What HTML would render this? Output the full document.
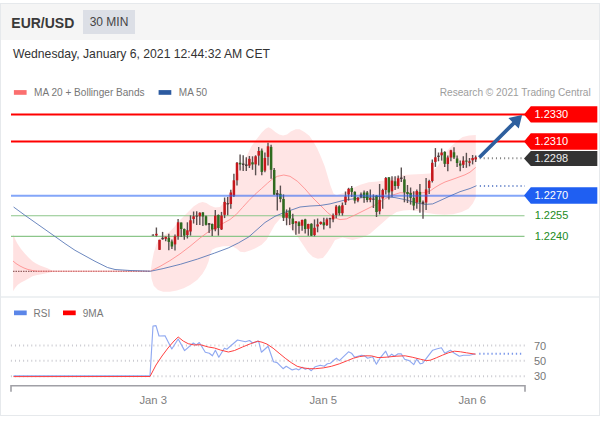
<!DOCTYPE html>
<html><head><meta charset="utf-8"><title>EUR/USD 30 MIN</title>
<style>
html,body{margin:0;padding:0;background:#fff;}
body{width:607px;height:423px;position:relative;overflow:hidden;font-family:"Liberation Sans",Arial,sans-serif;}
.card{position:absolute;left:0px;top:3px;width:600px;height:413px;border:1px solid #e6e9ec;box-sizing:border-box;background:#fff;}
.hdr{position:absolute;left:0;top:0;right:0;height:36px;background:#f5f5f5;}
.sym{position:absolute;left:10.3px;top:5.5px;font-size:14px;font-weight:bold;color:#3a3a3a;line-height:26px;white-space:nowrap;}
.tf{position:absolute;left:82.2px;top:6.3px;width:51.6px;height:24.2px;background:#dcdfe6;color:#444;font-size:12px;line-height:24px;text-align:center;white-space:nowrap;}
.date{position:absolute;left:12px;top:41.7px;font-size:12.2px;color:#333;line-height:16px;white-space:nowrap;}
.sep{position:absolute;left:0;right:0;top:292px;height:2px;background:#eef1f3;}
svg text{font-family:"Liberation Sans",Arial,sans-serif;}
</style></head><body>
<div class="card">
<div class="hdr"><div class="sym">EUR/USD</div><div class="tf">30 MIN</div></div>
<div class="date">Wednesday, January 6, 2021 12:44:32 AM CET</div>
<div class="sep"></div>
</div>
<svg width="607" height="423" viewBox="0 0 607 423" style="position:absolute;left:0;top:0">
<polygon points="13.2,233.8 15.0,239.0 17.5,243.8 21.0,249.0 25.0,253.8 29.0,258.0 32.5,261.3 36.0,263.5 40.0,265.5 44.0,267.0 47.5,268.3 52.5,270.8 54.0,271.3 54.0,271.3 52.5,271.8 47.5,273.0 44.0,273.7 40.0,274.5 36.0,275.2 32.5,276.3 29.0,278.2 25.0,280.5 21.0,282.5 17.5,285.0 15.0,288.0 13.2,291.3" fill="#ffdede" opacity="0.9"/>
<polygon points="150.8,270.1 152.0,261.7 153.7,253.1 156.3,244.6 159.7,238.2 163.8,235.2 168.8,232.4 173.8,227.6 178.8,221.3 183.8,216.3 188.8,211.3 193.8,206.3 198.9,203.0 202.6,202.0 206.4,203.0 210.1,205.5 215.1,207.5 220.1,207.0 223.9,202.5 226.4,197.5 230.7,192.0 233.6,185.9 237.5,176.0 240.4,168.4 245.3,158.7 248.2,152.9 251.0,147.0 255.0,141.3 257.9,137.4 261.7,132.5 265.6,128.7 268.5,127.3 271.4,128.7 275.3,132.0 279.2,134.5 283.0,135.4 287.0,134.5 290.8,131.6 295.7,129.2 299.6,129.2 304.4,132.0 309.3,135.8 313.1,141.3 317.0,148.0 320.9,156.8 324.8,166.5 327.7,176.2 330.6,185.9 333.5,193.6 336.4,195.2 345.0,192.6 351.7,188.6 360.3,184.8 368.8,182.3 377.4,181.4 384.2,180.6 394.5,177.1 403.1,175.1 411.7,174.6 422.0,174.0 430.0,173.6 437.7,166.3 442.7,157.6 447.7,150.0 452.7,145.0 457.7,140.5 462.7,137.0 469.0,135.5 475.8,135.0 475.8,197.5 472.8,203.6 468.5,208.7 461.7,212.1 453.1,214.2 444.5,214.7 436.0,214.2 427.4,213.0 418.8,211.3 410.3,210.1 403.4,210.4 396.6,212.1 389.7,216.4 382.9,222.4 376.0,228.4 370.0,233.8 362.6,237.6 352.5,240.0 342.5,237.6 335.0,240.0 331.0,247.0 327.0,253.0 322.9,258.0 317.9,258.8 313.0,257.1 308.0,252.2 303.0,244.7 298.0,237.3 293.1,231.5 288.1,224.8 285.0,220.0 282.3,216.6 279.8,219.0 274.9,224.8 270.7,232.3 266.6,239.7 261.6,244.7 255.0,248.5 250.0,250.6 244.5,252.3 240.2,251.8 236.8,248.8 231.7,245.9 223.1,246.3 216.2,247.7 212.0,249.7 210.2,254.8 208.5,261.7 206.0,267.7 202.5,273.7 197.4,279.7 190.5,284.8 183.7,288.3 176.8,290.5 170.0,291.7 163.1,291.7 158.0,290.0 153.7,285.7 151.5,278.8 150.8,271.4" fill="#ffe5e5"/>
<line x1="11" y1="215.7" x2="524.5" y2="215.7" stroke="#8cc68a" stroke-width="1.1"/>
<line x1="11" y1="236.4" x2="524.5" y2="236.4" stroke="#8cc68a" stroke-width="1.1"/>
<line x1="11" y1="114.55" x2="526" y2="114.55" stroke="#ff0000" stroke-width="2"/>
<line x1="11" y1="141.55" x2="526" y2="141.55" stroke="#ff0000" stroke-width="2"/>
<line x1="13" y1="271.3" x2="150.5" y2="271.3" stroke="#5a1a1a" stroke-width="0.8" stroke-dasharray="1.5,1"/>
<polyline points="13.0,261.0 16.0,263.5 20.0,266.0 24.0,268.0 28.0,269.5 33.0,270.6 38.0,271.2 150.5,271.2 160.0,266.4 170.0,260.6 180.0,253.9 190.0,246.3 200.0,238.0 210.0,230.6 220.0,225.0 230.0,219.5 236.3,214.4 242.5,207.5 248.8,200.6 255.0,194.4 261.3,188.8 267.6,183.1 273.0,178.5 277.5,176.3 283.8,175.0 290.0,176.3 297.6,181.4 305.0,188.9 312.6,197.6 320.0,205.0 327.6,212.6 333.9,217.6 340.0,219.6 346.4,218.9 355.0,215.0 365.0,210.0 375.0,205.0 385.0,198.9 392.7,195.0 400.0,192.8 410.0,193.0 420.0,193.0 426.0,192.5 430.0,191.0 435.0,187.5 440.0,184.5 445.0,182.0 455.0,178.5 465.0,174.8 470.0,172.2 475.7,167.4" fill="none" stroke="#ff8585" stroke-width="0.8" stroke-linejoin="round"/>
<polyline points="13.6,207.0 24.8,215.2 54.6,236.2 65.0,243.6 75.0,250.3 95.0,261.3 107.5,267.5 115.0,269.5 130.0,270.5 150.8,271.2 163.1,268.6 180.3,264.3 197.4,259.1 214.5,253.1 228.2,248.0 238.5,242.9 248.8,236.9 256.0,230.5 265.0,222.5 275.0,216.3 283.0,213.0 292.0,209.8 300.0,207.0 310.0,206.0 320.0,205.5 330.0,203.9 345.0,200.0 362.6,197.6 380.0,196.4 395.0,197.6 405.0,199.6 415.0,202.6 425.0,204.4 432.7,203.9 440.0,200.6 450.0,196.0 460.0,191.7 470.0,188.5 476.5,185.7" fill="none" stroke="#5273b3" stroke-width="0.85" stroke-linejoin="round"/>
<line x1="153.30" y1="234.6" x2="153.30" y2="235.6" stroke="#5a5050" stroke-width="1.4"/>
<rect x="151.70" y="234.6" width="2.4" height="1.0" fill="#4a3a3a"/>
<line x1="156.40" y1="227.5" x2="156.40" y2="236.5" stroke="#5a5050" stroke-width="1.4"/>
<rect x="155.15" y="233.8" width="2.5" height="1.6" fill="#c6171c"/>
<line x1="159.50" y1="239.8" x2="159.50" y2="250.0" stroke="#5a5050" stroke-width="1.4"/>
<rect x="158.25" y="239.8" width="2.5" height="10.0" fill="#c6171c"/>
<line x1="162.60" y1="231.9" x2="162.60" y2="239.8" stroke="#5a5050" stroke-width="1.4"/>
<rect x="161.35" y="237.8" width="2.5" height="1.4" fill="#4a3a3a"/>
<line x1="165.70" y1="236.5" x2="165.70" y2="241.3" stroke="#5a5050" stroke-width="1.4"/>
<rect x="164.45" y="236.9" width="2.5" height="1.9" fill="#c6171c"/>
<line x1="168.80" y1="233.8" x2="168.80" y2="250.3" stroke="#5a5050" stroke-width="1.4"/>
<rect x="167.55" y="237.8" width="2.5" height="4.1" fill="#2f6b1f"/>
<line x1="171.90" y1="239.4" x2="171.90" y2="249.0" stroke="#5a5050" stroke-width="1.4"/>
<rect x="170.65" y="241.5" width="2.5" height="5.0" fill="#2f6b1f"/>
<line x1="175.00" y1="234.4" x2="175.00" y2="250.6" stroke="#5a5050" stroke-width="1.4"/>
<rect x="173.75" y="236.3" width="2.5" height="8.1" fill="#c6171c"/>
<line x1="178.10" y1="219.0" x2="178.10" y2="239.8" stroke="#5a5050" stroke-width="1.4"/>
<rect x="176.85" y="222.3" width="2.5" height="14.0" fill="#c6171c"/>
<line x1="181.20" y1="222.5" x2="181.20" y2="236.9" stroke="#5a5050" stroke-width="1.4"/>
<rect x="179.95" y="222.5" width="2.5" height="6.5" fill="#2f6b1f"/>
<line x1="184.30" y1="228.5" x2="184.30" y2="239.8" stroke="#5a5050" stroke-width="1.4"/>
<rect x="183.05" y="229.0" width="2.5" height="6.6" fill="#2f6b1f"/>
<line x1="187.40" y1="222.3" x2="187.40" y2="238.5" stroke="#5a5050" stroke-width="1.4"/>
<rect x="186.15" y="230.3" width="2.5" height="4.7" fill="#c6171c"/>
<line x1="190.50" y1="215.3" x2="190.50" y2="235.6" stroke="#5a5050" stroke-width="1.4"/>
<rect x="189.25" y="220.3" width="2.5" height="11.2" fill="#c6171c"/>
<line x1="193.60" y1="211.5" x2="193.60" y2="223.5" stroke="#5a5050" stroke-width="1.4"/>
<rect x="192.35" y="216.3" width="2.5" height="2.7" fill="#c6171c"/>
<line x1="196.70" y1="211.3" x2="196.70" y2="225.0" stroke="#5a5050" stroke-width="1.4"/>
<rect x="195.45" y="215.6" width="2.5" height="1.0" fill="#4a3a3a"/>
<line x1="199.80" y1="212.3" x2="199.80" y2="225.0" stroke="#5a5050" stroke-width="1.4"/>
<rect x="198.55" y="212.8" width="2.5" height="3.5" fill="#c6171c"/>
<line x1="202.90" y1="211.9" x2="202.90" y2="226.0" stroke="#5a5050" stroke-width="1.4"/>
<rect x="201.65" y="212.5" width="2.5" height="4.0" fill="#2f6b1f"/>
<line x1="206.00" y1="215.6" x2="206.00" y2="225.6" stroke="#5a5050" stroke-width="1.4"/>
<rect x="204.75" y="216.3" width="2.5" height="8.5" fill="#2f6b1f"/>
<line x1="209.10" y1="223.0" x2="209.10" y2="233.0" stroke="#5a5050" stroke-width="1.4"/>
<rect x="207.85" y="223.2" width="2.5" height="1.6" fill="#4a3a3a"/>
<line x1="212.20" y1="223.5" x2="212.20" y2="236.0" stroke="#5a5050" stroke-width="1.4"/>
<rect x="210.95" y="224.0" width="2.5" height="5.4" fill="#2f6b1f"/>
<line x1="215.30" y1="210.0" x2="215.30" y2="231.3" stroke="#5a5050" stroke-width="1.4"/>
<rect x="214.05" y="215.6" width="2.5" height="13.8" fill="#c6171c"/>
<line x1="218.40" y1="214.4" x2="218.40" y2="235.6" stroke="#5a5050" stroke-width="1.4"/>
<rect x="217.15" y="215.0" width="2.5" height="13.0" fill="#2f6b1f"/>
<line x1="221.50" y1="211.9" x2="221.50" y2="230.0" stroke="#5a5050" stroke-width="1.4"/>
<rect x="220.25" y="215.6" width="2.5" height="13.8" fill="#c6171c"/>
<line x1="224.60" y1="197.5" x2="224.60" y2="218.1" stroke="#5a5050" stroke-width="1.4"/>
<rect x="223.35" y="201.9" width="2.5" height="12.9" fill="#c6171c"/>
<line x1="227.70" y1="196.9" x2="227.70" y2="215.3" stroke="#5a5050" stroke-width="1.4"/>
<rect x="226.45" y="203.1" width="2.5" height="1.3" fill="#4a3a3a"/>
<line x1="230.80" y1="189.8" x2="230.80" y2="208.8" stroke="#5a5050" stroke-width="1.4"/>
<rect x="229.55" y="192.5" width="2.5" height="11.5" fill="#c6171c"/>
<line x1="233.90" y1="173.8" x2="233.90" y2="196.9" stroke="#5a5050" stroke-width="1.4"/>
<rect x="232.65" y="180.3" width="2.5" height="15.3" fill="#c6171c"/>
<line x1="237.00" y1="161.9" x2="237.00" y2="185.6" stroke="#5a5050" stroke-width="1.4"/>
<rect x="235.75" y="162.8" width="2.5" height="17.5" fill="#c6171c"/>
<line x1="240.10" y1="154.4" x2="240.10" y2="170.6" stroke="#5a5050" stroke-width="1.4"/>
<rect x="238.85" y="162.8" width="2.5" height="1.6" fill="#2f6b1f"/>
<line x1="243.20" y1="155.3" x2="243.20" y2="171.0" stroke="#5a5050" stroke-width="1.4"/>
<rect x="241.95" y="163.5" width="2.5" height="1.5" fill="#4a3a3a"/>
<line x1="246.30" y1="157.3" x2="246.30" y2="171.0" stroke="#5a5050" stroke-width="1.4"/>
<rect x="245.05" y="164.4" width="2.5" height="1.6" fill="#4a3a3a"/>
<line x1="249.40" y1="156.0" x2="249.40" y2="168.0" stroke="#5a5050" stroke-width="1.4"/>
<rect x="248.15" y="158.8" width="2.5" height="6.8" fill="#c6171c"/>
<line x1="252.50" y1="156.3" x2="252.50" y2="169.8" stroke="#5a5050" stroke-width="1.4"/>
<rect x="251.25" y="162.3" width="2.5" height="2.1" fill="#2f6b1f"/>
<line x1="255.60" y1="155.3" x2="255.60" y2="175.3" stroke="#5a5050" stroke-width="1.4"/>
<rect x="254.35" y="156.3" width="2.5" height="8.1" fill="#c6171c"/>
<line x1="258.70" y1="146.9" x2="258.70" y2="165.6" stroke="#5a5050" stroke-width="1.4"/>
<rect x="257.45" y="151.0" width="2.5" height="4.6" fill="#c6171c"/>
<line x1="261.80" y1="148.5" x2="261.80" y2="175.3" stroke="#5a5050" stroke-width="1.4"/>
<rect x="260.55" y="150.6" width="2.5" height="21.3" fill="#2f6b1f"/>
<line x1="264.90" y1="152.5" x2="264.90" y2="172.3" stroke="#5a5050" stroke-width="1.4"/>
<rect x="263.65" y="158.0" width="2.5" height="12.6" fill="#c6171c"/>
<line x1="268.00" y1="142.8" x2="268.00" y2="165.6" stroke="#5a5050" stroke-width="1.4"/>
<rect x="266.75" y="146.3" width="2.5" height="10.6" fill="#c6171c"/>
<line x1="271.10" y1="144.8" x2="271.10" y2="178.8" stroke="#5a5050" stroke-width="1.4"/>
<rect x="269.85" y="146.9" width="2.5" height="22.9" fill="#2f6b1f"/>
<line x1="274.20" y1="168.1" x2="274.20" y2="195.0" stroke="#5a5050" stroke-width="1.4"/>
<rect x="272.95" y="170.0" width="2.5" height="24.6" fill="#2f6b1f"/>
<line x1="277.30" y1="190.0" x2="277.30" y2="210.5" stroke="#5a5050" stroke-width="1.4"/>
<rect x="276.05" y="193.0" width="2.5" height="2.0" fill="#4a3a3a"/>
<line x1="280.40" y1="185.6" x2="280.40" y2="202.3" stroke="#5a5050" stroke-width="1.4"/>
<rect x="279.15" y="193.8" width="2.5" height="5.2" fill="#2f6b1f"/>
<line x1="283.50" y1="194.4" x2="283.50" y2="221.0" stroke="#5a5050" stroke-width="1.4"/>
<rect x="282.25" y="199.0" width="2.5" height="18.8" fill="#2f6b1f"/>
<line x1="286.60" y1="209.4" x2="286.60" y2="225.3" stroke="#5a5050" stroke-width="1.4"/>
<rect x="285.35" y="212.8" width="2.5" height="5.0" fill="#c6171c"/>
<line x1="289.70" y1="207.5" x2="289.70" y2="225.0" stroke="#5a5050" stroke-width="1.4"/>
<rect x="288.45" y="210.6" width="2.5" height="7.9" fill="#2f6b1f"/>
<line x1="292.80" y1="213.8" x2="292.80" y2="230.3" stroke="#5a5050" stroke-width="1.4"/>
<rect x="291.55" y="218.5" width="2.5" height="5.5" fill="#2f6b1f"/>
<line x1="295.90" y1="221.3" x2="295.90" y2="234.8" stroke="#5a5050" stroke-width="1.4"/>
<rect x="294.65" y="221.3" width="2.5" height="1.9" fill="#c6171c"/>
<line x1="299.00" y1="221.3" x2="299.00" y2="233.8" stroke="#5a5050" stroke-width="1.4"/>
<rect x="297.75" y="222.3" width="2.5" height="3.7" fill="#2f6b1f"/>
<line x1="302.10" y1="219.4" x2="302.10" y2="230.7" stroke="#5a5050" stroke-width="1.4"/>
<rect x="300.85" y="220.0" width="2.5" height="5.7" fill="#c6171c"/>
<line x1="305.20" y1="218.8" x2="305.20" y2="233.6" stroke="#5a5050" stroke-width="1.4"/>
<rect x="303.95" y="219.4" width="2.5" height="9.6" fill="#2f6b1f"/>
<line x1="308.30" y1="223.8" x2="308.30" y2="235.7" stroke="#5a5050" stroke-width="1.4"/>
<rect x="307.05" y="224.0" width="2.5" height="4.8" fill="#c6171c"/>
<line x1="311.40" y1="223.2" x2="311.40" y2="236.0" stroke="#5a5050" stroke-width="1.4"/>
<rect x="310.15" y="223.8" width="2.5" height="11.9" fill="#2f6b1f"/>
<line x1="314.50" y1="219.4" x2="314.50" y2="236.3" stroke="#5a5050" stroke-width="1.4"/>
<rect x="313.25" y="227.8" width="2.5" height="7.2" fill="#c6171c"/>
<line x1="317.60" y1="218.5" x2="317.60" y2="232.3" stroke="#5a5050" stroke-width="1.4"/>
<rect x="316.35" y="224.4" width="2.5" height="2.1" fill="#c6171c"/>
<line x1="320.70" y1="221.5" x2="320.70" y2="224.8" stroke="#5a5050" stroke-width="1.4"/>
<rect x="319.45" y="221.9" width="2.5" height="2.1" fill="#c6171c"/>
<line x1="323.80" y1="217.8" x2="323.80" y2="229.4" stroke="#5a5050" stroke-width="1.4"/>
<rect x="322.55" y="222.3" width="2.5" height="3.0" fill="#2f6b1f"/>
<line x1="326.90" y1="217.8" x2="326.90" y2="226.0" stroke="#5a5050" stroke-width="1.4"/>
<rect x="325.65" y="219.4" width="2.5" height="5.6" fill="#c6171c"/>
<line x1="330.00" y1="217.8" x2="330.00" y2="228.2" stroke="#5a5050" stroke-width="1.4"/>
<rect x="328.75" y="218.2" width="2.5" height="1.0" fill="#4a3a3a"/>
<line x1="333.10" y1="213.5" x2="333.10" y2="222.3" stroke="#5a5050" stroke-width="1.4"/>
<rect x="331.85" y="215.3" width="2.5" height="4.1" fill="#c6171c"/>
<line x1="336.20" y1="205.0" x2="336.20" y2="218.2" stroke="#5a5050" stroke-width="1.4"/>
<rect x="334.95" y="206.5" width="2.5" height="8.5" fill="#c6171c"/>
<line x1="339.30" y1="205.3" x2="339.30" y2="215.6" stroke="#5a5050" stroke-width="1.4"/>
<rect x="338.05" y="206.3" width="2.5" height="6.9" fill="#2f6b1f"/>
<line x1="342.40" y1="202.5" x2="342.40" y2="215.6" stroke="#5a5050" stroke-width="1.4"/>
<rect x="341.15" y="205.3" width="2.5" height="7.9" fill="#c6171c"/>
<line x1="345.50" y1="191.5" x2="345.50" y2="205.0" stroke="#5a5050" stroke-width="1.4"/>
<rect x="344.25" y="196.5" width="2.5" height="5.8" fill="#c6171c"/>
<line x1="348.60" y1="187.8" x2="348.60" y2="200.6" stroke="#5a5050" stroke-width="1.4"/>
<rect x="347.35" y="188.8" width="2.5" height="5.6" fill="#c6171c"/>
<line x1="351.70" y1="186.0" x2="351.70" y2="196.9" stroke="#5a5050" stroke-width="1.4"/>
<rect x="350.45" y="188.0" width="2.5" height="3.9" fill="#2f6b1f"/>
<line x1="354.80" y1="191.3" x2="354.80" y2="203.5" stroke="#5a5050" stroke-width="1.4"/>
<rect x="353.55" y="191.9" width="2.5" height="8.7" fill="#2f6b1f"/>
<line x1="357.90" y1="196.9" x2="357.90" y2="202.3" stroke="#5a5050" stroke-width="1.4"/>
<rect x="356.65" y="197.8" width="2.5" height="2.8" fill="#c6171c"/>
<line x1="361.00" y1="192.5" x2="361.00" y2="198.0" stroke="#5a5050" stroke-width="1.4"/>
<rect x="359.75" y="194.4" width="2.5" height="2.5" fill="#4a3a3a"/>
<line x1="364.10" y1="190.6" x2="364.10" y2="202.8" stroke="#5a5050" stroke-width="1.4"/>
<rect x="362.85" y="192.5" width="2.5" height="5.5" fill="#2f6b1f"/>
<line x1="367.20" y1="191.0" x2="367.20" y2="202.3" stroke="#5a5050" stroke-width="1.4"/>
<rect x="365.95" y="192.5" width="2.5" height="7.5" fill="#2f6b1f"/>
<line x1="370.30" y1="189.4" x2="370.30" y2="202.3" stroke="#5a5050" stroke-width="1.4"/>
<rect x="369.05" y="198.0" width="2.5" height="1.8" fill="#c6171c"/>
<line x1="373.40" y1="194.4" x2="373.40" y2="208.0" stroke="#5a5050" stroke-width="1.4"/>
<rect x="372.15" y="198.5" width="2.5" height="1.3" fill="#4a3a3a"/>
<line x1="376.50" y1="195.0" x2="376.50" y2="217.0" stroke="#5a5050" stroke-width="1.4"/>
<rect x="375.25" y="195.6" width="2.5" height="16.4" fill="#2f6b1f"/>
<line x1="379.60" y1="184.0" x2="379.60" y2="214.4" stroke="#5a5050" stroke-width="1.4"/>
<rect x="378.35" y="199.8" width="2.5" height="11.5" fill="#c6171c"/>
<line x1="382.70" y1="188.8" x2="382.70" y2="208.8" stroke="#5a5050" stroke-width="1.4"/>
<rect x="381.45" y="190.0" width="2.5" height="8.5" fill="#c6171c"/>
<line x1="385.80" y1="176.9" x2="385.80" y2="194.4" stroke="#5a5050" stroke-width="1.4"/>
<rect x="384.55" y="178.0" width="2.5" height="12.0" fill="#c6171c"/>
<line x1="388.90" y1="176.9" x2="388.90" y2="199.4" stroke="#5a5050" stroke-width="1.4"/>
<rect x="387.65" y="177.3" width="2.5" height="15.2" fill="#2f6b1f"/>
<line x1="392.00" y1="176.3" x2="392.00" y2="196.9" stroke="#5a5050" stroke-width="1.4"/>
<rect x="390.75" y="180.6" width="2.5" height="10.7" fill="#c6171c"/>
<line x1="395.10" y1="176.3" x2="395.10" y2="190.0" stroke="#5a5050" stroke-width="1.4"/>
<rect x="393.85" y="181.3" width="2.5" height="4.7" fill="#2f6b1f"/>
<line x1="398.20" y1="175.6" x2="398.20" y2="188.8" stroke="#5a5050" stroke-width="1.4"/>
<rect x="396.95" y="178.3" width="2.5" height="7.7" fill="#c6171c"/>
<line x1="401.30" y1="167.5" x2="401.30" y2="181.9" stroke="#5a5050" stroke-width="1.4"/>
<rect x="400.05" y="177.5" width="2.5" height="1.5" fill="#4a3a3a"/>
<line x1="404.40" y1="176.0" x2="404.40" y2="202.3" stroke="#5a5050" stroke-width="1.4"/>
<rect x="403.15" y="179.4" width="2.5" height="13.0" fill="#2f6b1f"/>
<line x1="407.50" y1="185.0" x2="407.50" y2="203.0" stroke="#5a5050" stroke-width="1.4"/>
<rect x="406.25" y="192.0" width="2.5" height="2.0" fill="#2f6b1f"/>
<line x1="410.60" y1="187.5" x2="410.60" y2="204.6" stroke="#5a5050" stroke-width="1.4"/>
<rect x="409.35" y="193.0" width="2.5" height="4.8" fill="#2f6b1f"/>
<line x1="413.70" y1="191.3" x2="413.70" y2="210.3" stroke="#5a5050" stroke-width="1.4"/>
<rect x="412.45" y="197.8" width="2.5" height="7.8" fill="#2f6b1f"/>
<line x1="416.80" y1="189.4" x2="416.80" y2="208.8" stroke="#5a5050" stroke-width="1.4"/>
<rect x="415.55" y="191.0" width="2.5" height="11.5" fill="#c6171c"/>
<line x1="419.90" y1="184.0" x2="419.90" y2="212.8" stroke="#5a5050" stroke-width="1.4"/>
<rect x="418.65" y="191.9" width="2.5" height="10.6" fill="#2f6b1f"/>
<line x1="423.00" y1="200.6" x2="423.00" y2="218.8" stroke="#5a5050" stroke-width="1.4"/>
<rect x="421.75" y="201.9" width="2.5" height="2.1" fill="#4a3a3a"/>
<line x1="426.10" y1="178.0" x2="426.10" y2="210.0" stroke="#5a5050" stroke-width="1.4"/>
<rect x="424.85" y="189.4" width="2.5" height="13.1" fill="#c6171c"/>
<line x1="429.20" y1="179.8" x2="429.20" y2="194.0" stroke="#5a5050" stroke-width="1.4"/>
<rect x="427.95" y="181.0" width="2.5" height="7.0" fill="#c6171c"/>
<line x1="432.30" y1="159.4" x2="432.30" y2="182.5" stroke="#5a5050" stroke-width="1.4"/>
<rect x="431.05" y="162.8" width="2.5" height="18.2" fill="#c6171c"/>
<line x1="435.40" y1="148.1" x2="435.40" y2="166.9" stroke="#5a5050" stroke-width="1.4"/>
<rect x="434.15" y="157.3" width="2.5" height="4.6" fill="#c6171c"/>
<line x1="438.50" y1="152.5" x2="438.50" y2="161.3" stroke="#5a5050" stroke-width="1.4"/>
<rect x="437.25" y="155.6" width="2.5" height="1.4" fill="#4a3a3a"/>
<line x1="441.60" y1="148.5" x2="441.60" y2="160.6" stroke="#5a5050" stroke-width="1.4"/>
<rect x="440.35" y="152.5" width="2.5" height="2.8" fill="#c6171c"/>
<line x1="444.70" y1="151.3" x2="444.70" y2="166.9" stroke="#5a5050" stroke-width="1.4"/>
<rect x="443.45" y="151.9" width="2.5" height="11.9" fill="#2f6b1f"/>
<line x1="447.80" y1="155.6" x2="447.80" y2="171.3" stroke="#5a5050" stroke-width="1.4"/>
<rect x="446.55" y="157.5" width="2.5" height="6.5" fill="#c6171c"/>
<line x1="450.90" y1="149.8" x2="450.90" y2="161.3" stroke="#5a5050" stroke-width="1.4"/>
<rect x="449.65" y="150.3" width="2.5" height="7.2" fill="#c6171c"/>
<line x1="454.00" y1="147.3" x2="454.00" y2="159.0" stroke="#5a5050" stroke-width="1.4"/>
<rect x="452.75" y="152.3" width="2.5" height="5.2" fill="#2f6b1f"/>
<line x1="457.10" y1="155.6" x2="457.10" y2="166.9" stroke="#5a5050" stroke-width="1.4"/>
<rect x="455.85" y="158.5" width="2.5" height="4.5" fill="#2f6b1f"/>
<line x1="460.20" y1="160.6" x2="460.20" y2="171.3" stroke="#5a5050" stroke-width="1.4"/>
<rect x="458.95" y="163.5" width="2.5" height="2.1" fill="#2f6b1f"/>
<line x1="463.30" y1="156.3" x2="463.30" y2="168.0" stroke="#5a5050" stroke-width="1.4"/>
<rect x="462.05" y="160.6" width="2.5" height="4.2" fill="#c6171c"/>
<line x1="466.40" y1="152.8" x2="466.40" y2="167.8" stroke="#5a5050" stroke-width="1.4"/>
<rect x="465.15" y="160.6" width="2.5" height="1.0" fill="#2f6b1f"/>
<line x1="469.50" y1="158.0" x2="469.50" y2="166.3" stroke="#5a5050" stroke-width="1.4"/>
<rect x="468.25" y="161.3" width="2.5" height="1.5" fill="#c6171c"/>
<line x1="472.60" y1="155.0" x2="472.60" y2="164.4" stroke="#5a5050" stroke-width="1.4"/>
<rect x="471.35" y="158.0" width="2.5" height="2.3" fill="#c6171c"/>
<line x1="475.70" y1="155.6" x2="475.70" y2="161.9" stroke="#5a5050" stroke-width="1.4"/>
<rect x="474.45" y="157.3" width="2.5" height="2.1" fill="#c6171c"/>
<line x1="11" y1="195.8" x2="526" y2="195.8" stroke="#2a66f4" stroke-opacity="0.58" stroke-width="1.9"/>
<line x1="479.6" y1="158.3" x2="523" y2="158.3" stroke="#7d7d7d" stroke-width="2" stroke-dasharray="1,3.09"/>
<line x1="479.8" y1="186.1" x2="525" y2="186.1" stroke="#7590cf" stroke-width="2" stroke-dasharray="1.2,2.87"/>
<polygon points="480.6,158.8 514.9,124.7 518.8,128.6 522.1,114.9 508.4,118.1 512.3,122.0 478.0,156.2" fill="#2e5f9e"/>
<polygon points="524,114.4 530.8,106.2 597.3,106.2 597.3,122.6 530.8,122.6" fill="#ff0000"/>
<text x="534.5" y="118.4" font-size="11" fill="#ffffff">1.2330</text>
<polygon points="524,141.5 530.8,133.3 597.3,133.3 597.3,149.7 530.8,149.7" fill="#ff0000"/>
<text x="534.5" y="144.6" font-size="11" fill="#ffffff">1.2310</text>
<polygon points="524,158.4 530.8,150.9 597.3,150.9 597.3,165.9 530.8,165.9" fill="#333333"/>
<text x="534.5" y="162.4" font-size="11" fill="#eeeeee">1.2298</text>
<polygon points="524,195.5 530.8,187.3 597.3,187.3 597.3,203.7 530.8,203.7" fill="#1f5ff2"/>
<text x="534.5" y="199.2" font-size="11" fill="#ffffff">1.2270</text>
<text x="534.7" y="219.0" font-size="11" fill="#228b22">1.2255</text>
<text x="534.7" y="239.9" font-size="11" fill="#228b22">1.2240</text>
<line x1="10.9" y1="345.4" x2="525" y2="345.4" stroke="#cacad0" stroke-width="2" stroke-dasharray="1,3.07"/>
<line x1="10.9" y1="360.8" x2="525" y2="360.8" stroke="#cacad0" stroke-width="2" stroke-dasharray="1,3.07"/>
<line x1="10.9" y1="376.2" x2="525" y2="376.2" stroke="#cacad0" stroke-width="2" stroke-dasharray="1,3.07"/>
<polyline points="13.5,375.9 150.0,375.9 153.0,326.0 156.0,325.6 159.0,336.0 165.0,335.7 171.8,349.0 178.2,339.0 184.6,350.6 193.3,343.0 196.3,345.0 199.3,342.5 205.3,352.2 209.3,353.2 212.4,355.8 215.4,350.2 218.8,357.2 224.4,348.2 226.8,349.2 237.5,340.0 245.5,341.7 249.5,340.5 252.6,343.0 258.6,341.1 261.4,352.2 268.1,346.2 273.5,361.8 277.1,362.6 283.1,368.7 286.2,366.3 292.2,369.9 296.2,368.7 298.8,369.9 302.2,367.3 305.3,369.3 308.3,368.3 311.3,370.7 315.3,366.7 320.3,365.2 324.3,366.3 327.4,363.8 330.4,363.2 334.4,359.8 336.4,358.2 339.4,360.6 348.5,351.8 351.5,353.2 354.5,357.2 361.5,355.2 364.5,355.8 367.6,358.2 372.6,356.8 376.4,364.2 380.0,358.2 385.7,351.2 388.5,357.2 391.7,354.2 394.5,356.2 398.1,353.8 401.2,353.8 404.6,359.2 409.2,360.6 413.8,364.6 416.6,359.2 420.3,363.8 422.7,363.2 427.3,357.2 432.7,350.2 437.3,348.8 441.4,347.8 444.8,353.2 450.4,350.2 454.4,353.2 459.4,356.2 463.5,355.2 469.5,355.2 475.5,353.8" fill="none" stroke="#90a9f1" stroke-width="1.15" stroke-linejoin="round"/>
<polyline points="13.5,376.6 150.0,376.5 156.0,365.0 162.0,356.0 168.0,348.0 174.0,341.0 178.2,337.0 183.2,341.0 188.2,343.7 194.3,345.0 200.3,344.7 208.3,347.0 214.4,348.0 220.4,350.0 228.4,352.0 234.5,350.5 242.5,347.0 250.6,343.7 257.6,341.2 262.0,342.2 267.0,344.1 273.1,348.2 279.1,353.2 285.2,358.2 291.2,362.6 297.2,366.3 303.2,367.9 309.3,368.7 315.3,368.7 323.3,367.9 331.4,366.3 339.4,363.8 347.5,360.6 353.5,358.2 359.5,356.6 365.6,355.8 371.6,355.9 378.0,357.6 386.1,357.2 396.1,356.2 405.2,355.8 412.2,357.2 420.3,359.2 426.3,360.6 430.3,360.2 436.3,357.8 442.4,355.2 448.4,352.8 454.4,351.2 460.5,351.8 466.5,352.8 475.5,354.2" fill="none" stroke="#ff4040" stroke-width="1.0" stroke-linejoin="round"/>
<line x1="479.2" y1="353.8" x2="523" y2="353.8" stroke="#7b98ea" stroke-width="2" stroke-dasharray="1.3,2.77"/>
<text x="534" y="349.8" font-size="11" fill="#777777">70</text>
<text x="534" y="364.8" font-size="11" fill="#777777">50</text>
<text x="534" y="379.8" font-size="11" fill="#777777">30</text>
<polyline points="11,391.8 11,385.8 525,385.8 525,391.8" fill="none" stroke="#a0a0a6" stroke-width="1.6"/>
<text x="153.2" y="404" font-size="11.3" fill="#808080" text-anchor="middle">Jan 3</text>
<text x="323.3" y="404" font-size="11.3" fill="#808080" text-anchor="middle">Jan 5</text>
<text x="472.3" y="404" font-size="11.3" fill="#808080" text-anchor="middle">Jan 6</text>
<rect x="13.9" y="90.1" width="12.7" height="4.7" fill="#fb6f6f"/>
<text x="34.1" y="96.2" font-size="10.07" fill="#777777">MA 20 + Bollinger Bands</text>
<rect x="158.6" y="90.1" width="12.7" height="4.7" fill="#2c5aa0"/>
<text x="178.8" y="96.2" font-size="10" fill="#777777">MA 50</text>
<text x="590.7" y="96.2" font-size="10.15" fill="#9d9d9d" text-anchor="end">Research © 2021 Trading Central</text>
<rect x="14" y="310.5" width="12.7" height="4.7" fill="#5b86e8"/>
<text x="33.5" y="316.6" font-size="10" fill="#777777">RSI</text>
<rect x="63" y="310.5" width="12.7" height="4.7" fill="#ff0000"/>
<text x="82.8" y="316.6" font-size="10" fill="#777777">9MA</text>
</svg>
</body></html>
